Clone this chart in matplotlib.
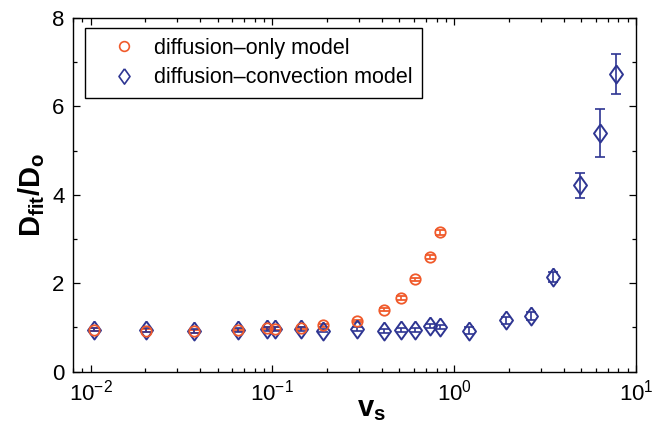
import matplotlib
matplotlib.use("Agg")
import matplotlib.pyplot as plt
from matplotlib.lines import Line2D
from matplotlib.ticker import LogLocator, MultipleLocator

plt.rcParams['font.family'] = ['Liberation Sans', 'DejaVu Sans']
plt.rcParams['mathtext.fontset'] = 'custom'
plt.rcParams['mathtext.rm'] = 'Liberation Sans'
plt.rcParams['mathtext.it'] = 'Liberation Sans:italic'
plt.rcParams['mathtext.bf'] = 'Liberation Sans:bold'

# diffusion-only model
vs_only = [0.0105, 0.0203, 0.037, 0.0647, 0.094, 0.104, 0.144, 0.191,
           0.291, 0.411, 0.508, 0.609, 0.741, 0.833]
d_only = [0.95, 0.93, 0.91, 0.94, 0.99, 0.97, 0.99, 1.05,
          1.15, 1.40, 1.67, 2.09, 2.59, 3.15]
err_only = [0.03, 0.03, 0.03, 0.03, 0.03, 0.03, 0.03, 0.03,
            0.03, 0.03, 0.04, 0.04, 0.05, 0.06]

# diffusion-convection model
vs_conv = [0.0105, 0.0203, 0.037, 0.0647, 0.094, 0.104, 0.144, 0.191,
           0.291, 0.411, 0.508, 0.609, 0.741, 0.833, 1.20, 1.94, 2.66,
           3.50, 4.93, 6.33, 7.72]
d_conv = [0.95, 0.94, 0.92, 0.94, 0.96, 0.96, 0.97, 0.93,
          0.97, 0.92, 0.94, 0.94, 1.04, 1.01, 0.93, 1.16, 1.26,
          2.14, 4.22, 5.40, 6.74]
err_conv = [0.04, 0.04, 0.04, 0.04, 0.04, 0.04, 0.04, 0.04,
            0.04, 0.04, 0.04, 0.04, 0.05, 0.05, 0.08, 0.08, 0.09,
            0.12, 0.28, 0.54, 0.45]

orange = '#f05a2b'
blue = '#2e3592'
# wider diamond than matplotlib's 'd'
diamond = [(0, 1), (0.72, 0), (0, -1), (-0.72, 0), (0, 1)]

fig = plt.figure(figsize=(6.57, 4.30), dpi=100)
ax = fig.add_axes([0.111, 0.1356, 0.857, 0.8224])

ax.errorbar(vs_only, d_only, yerr=err_only, fmt='o', ms=7.5, mfc='none',
            mec=orange, mew=1.3, ecolor=orange, elinewidth=1.2,
            capsize=3.5, capthick=1.2)
ax.errorbar(vs_conv, d_conv, yerr=err_conv, fmt='none', ecolor=blue,
            elinewidth=1.2, capsize=3.6, capthick=1.2)
ax.plot(vs_conv, d_conv, ls='none', marker=diamond, ms=13, mfc='none',
        mec=blue, mew=1.4)

ax.set_xscale('log')
ax.set_xlim(0.008, 10)
ax.set_ylim(0, 8)
ax.yaxis.set_major_locator(MultipleLocator(2))
ax.yaxis.set_minor_locator(MultipleLocator(1))
ax.xaxis.set_major_locator(LogLocator(base=10))
ax.xaxis.set_minor_locator(LogLocator(base=10, subs=range(2, 10)))

ax.tick_params(which='both', direction='in', top=True, right=True,
               labelsize=16, width=0.9)
ax.tick_params(which='major', length=5, pad=6)
ax.tick_params(which='minor', length=3)
for s in ax.spines.values():
    s.set_linewidth(1.0)

ax.set_xlabel(r'$\mathbf{v_s}$', fontsize=21, labelpad=-4)
ax.xaxis.set_label_coords(0.53, -0.065)
ax.set_ylabel(r'$\mathbf{D_{fit}/D_o}$', fontsize=21, labelpad=4)

handles = [
    Line2D([], [], ls='none', marker='o', ms=7, mfc='none', mec=orange, mew=1.2),
    Line2D([], [], ls='none', marker=diamond, ms=11, mfc='none', mec=blue, mew=1.2),
]
leg = ax.legend(handles, ['diffusion\u2013only model', 'diffusion\u2013convection model'],
                loc='upper left', bbox_to_anchor=(0.021, 0.972), fontsize=15.5,
                frameon=True, fancybox=False, framealpha=1, edgecolor='black',
                borderaxespad=0, handletextpad=0.05, borderpad=0.45,
                labelspacing=0.4, handlelength=2.7)
leg.get_frame().set_linewidth(1.0)

fig.savefig('out.png', dpi=100)
